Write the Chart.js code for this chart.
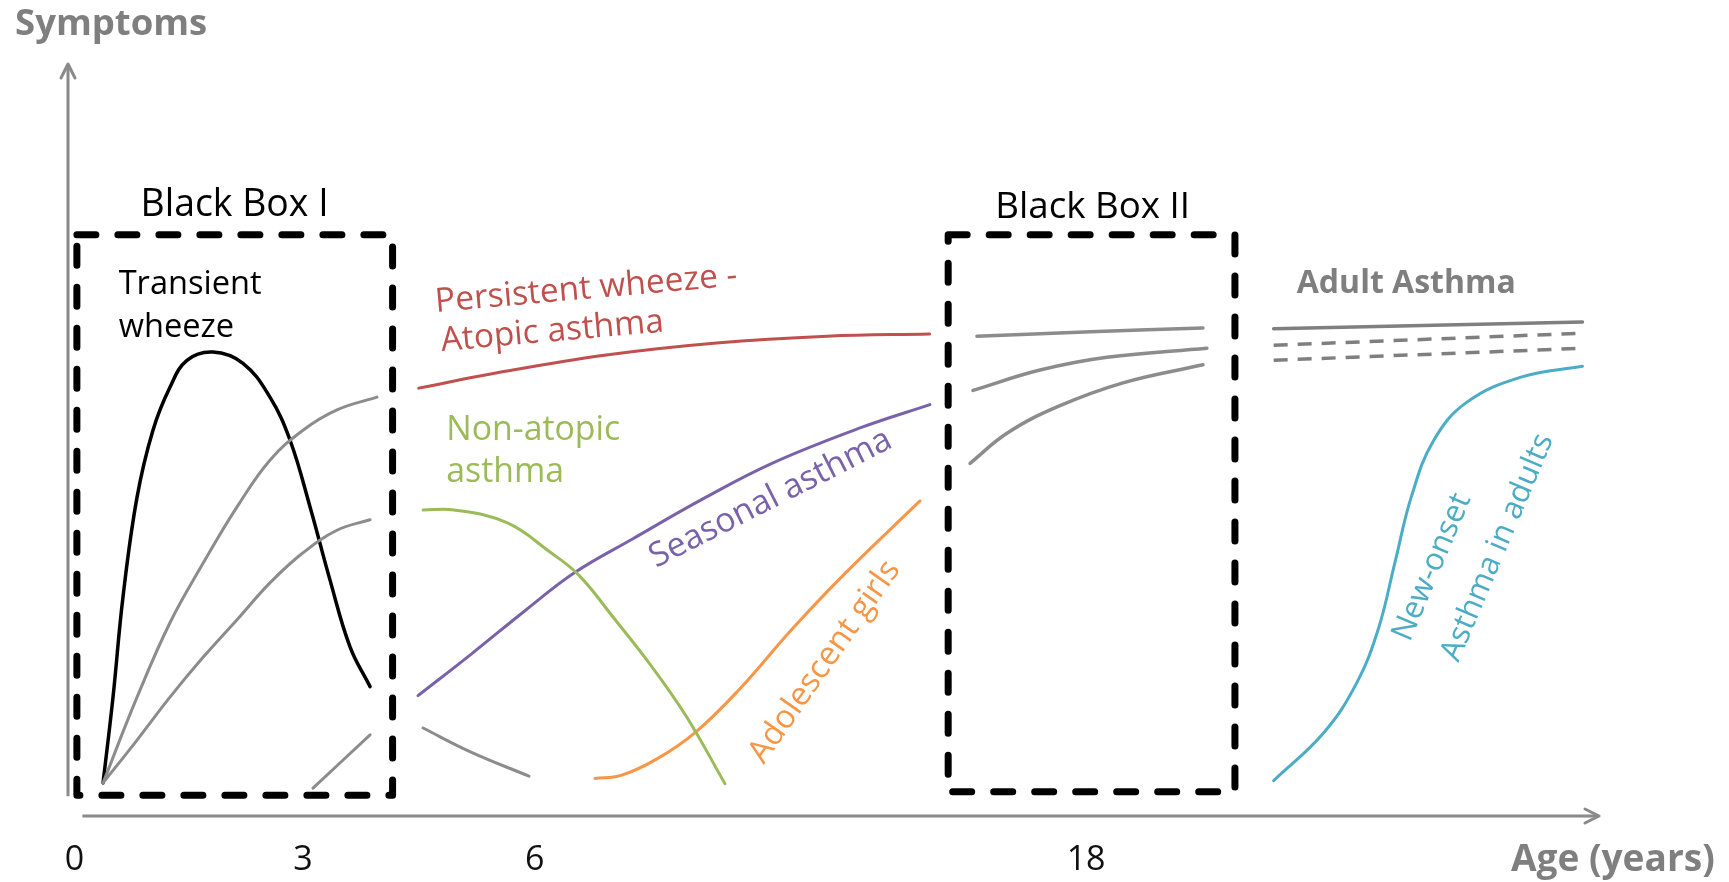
<!DOCTYPE html>
<html><head><meta charset="utf-8">
<script src="https://cdn.jsdelivr.net/npm/chart.js@4"></script>
<style>html,body{margin:0;padding:0;background:#fff;overflow:hidden}canvas{display:block}</style>
</head><body>
<canvas id="c" width="1729" height="882"></canvas>
<script>
// Layout units: x = position along the age axis (0-100), y = symptom level (0-100)
const tickPositions = [0.43, 15.35, 30.48, 66.5];
const tickLabels = ['0', '3', '6', '18'];

const boxI = [[0.58, 77.3], [21.2, 77.3], [21.2, 2.75], [0.58, 2.75], [0.58, 77.3]];
const boxII = [[57.49, 77.3], [76.22, 77.3], [76.22, 3.23], [57.49, 3.23], [57.49, 77.3]];

const transientWheeze = [[2.29,4.4],[2.94,15.8],[3.59,29.1],[4.51,42.4],[5.55,51.3],[6.66,57.0],[7.77,60.6],[9.47,61.7],[11.43,60.2],[13.19,55.7],[14.50,50.0],[15.81,41.1],[17.11,31.4],[18.42,22.5],[19.73,17.2]];
const earlyGrayUpper = [[2.29,4.4],[4.51,15.8],[6.66,25.7],[8.82,33.6],[11.04,41.1],[13.19,47.3],[15.35,51.3],[17.57,54.0],[20.18,55.7]];
const earlyGrayMiddle = [[2.29,4.4],[4.51,10.1],[6.66,15.8],[8.82,21.1],[11.04,26.1],[13.19,31.0],[15.35,35.0],[17.57,38.0],[19.73,39.4]];
const earlyGrayLower = [[16.0,3.7],[19.73,10.8]];
const remissionGray = [[23.19,11.7],[26.32,8.5],[30.11,5.3]];

const persistentWheeze = [[22.91,56.9],[27.95,58.9],[35.16,61.3],[42.36,62.9],[49.57,63.8],[56.27,64.1]];
const nonAtopic = [[23.19,40.7],[25.21,40.7],[28.67,39.0],[31.48,35.1],[33.38,32.0],[35.66,26.3],[38.01,20.2],[40.37,13.3],[42.91,4.3]];
const seasonal = [[22.86,16.0],[26.32,21.5],[29.85,27.3],[33.12,32.4],[36.84,36.8],[41.5,42.2],[45.98,46.9],[51.73,51.6],[56.30,54.7]];
const adolescentGirls = [[34.42,5.0],[36.12,5.4],[38.47,7.6],[41.02,11.2],[43.83,16.8],[47.36,25.0],[50.82,32.4],[55.65,41.9]];

const lateGrayTop = [[59.37,63.8],[66.8,64.4],[74.13,64.9]];
const lateGrayMiddle = [[59.11,56.6],[63.49,59.3],[67.86,61.0],[74.39,62.2]];
const lateGrayBottom = [[58.92,46.9],[61.33,50.9],[64.6,54.4],[68.91,57.6],[74.13,60.0]];

const adultSolid = [[78.75,64.8],[98.92,65.7]];
const adultDashedUpper = [[78.75,62.6],[98.92,64.2]];
const adultDashedLower = [[78.75,60.6],[98.92,62.2]];
const newOnsetAdult = [[78.75,4.7],[81.99,11.0],[84.15,17.6],[85.59,24.9],[86.67,33.7],[87.75,42.5],[89.19,49.9],[91.35,55.0],[94.96,58.4],[98.92,59.8]];

const axisY = [[0, 2.64], [0, 100]];
const axisX = [[0.94, 0], [100, 0]];

// ---- styles ----
const GRAY = '#8c8c8c';
const pts = a => a.map(([x, y]) => ({x, y}));
function curve(data, color, width, extra) {
  return Object.assign({data: pts(data), borderColor: color, borderWidth: width, pointRadius: 0,
    fill: false, tension: 0.4, cubicInterpolationMode: 'default', borderCapStyle: 'round', clip: false}, extra || {});
}
const straight = {tension: 0, cubicInterpolationMode: 'default'};
const box = d => curve(d, '#000', 7, Object.assign({borderDash: [19, 22], borderCapStyle: 'round', borderJoinStyle: 'round'}, straight));
const dashed = d => curve(d, '#7f7f7f', 3.5, Object.assign({borderDash: [14, 10], borderCapStyle: 'butt'}, straight));

const datasets = [
  curve(axisY, '#8a8a8a', 3, Object.assign({borderCapStyle: 'butt'}, straight)),
  curve(axisX, '#8a8a8a', 3, Object.assign({borderCapStyle: 'butt'}, straight)),
  box(boxI), box(boxII),
  curve(earlyGrayUpper, GRAY, 3), curve(earlyGrayMiddle, GRAY, 3), curve(earlyGrayLower, GRAY, 3),
  curve(remissionGray, GRAY, 3),
  curve(transientWheeze, '#000', 3.5),
  curve(persistentWheeze, '#c0504d', 3),
  curve(nonAtopic, '#9bbb59', 3),
  curve(seasonal, '#7a62aa', 3),
  curve(adolescentGirls, '#f79646', 3),
  curve(lateGrayTop, GRAY, 3.5), curve(lateGrayMiddle, GRAY, 3.5), curve(lateGrayBottom, GRAY, 3.5),
  curve(adultSolid, '#7f7f7f', 3.5, straight),
  dashed(adultDashedUpper), dashed(adultDashedLower),
  curve(newOnsetAdult, '#4bacc6', 3)
];

const FONT = '"Open Sans", "DejaVu Sans", sans-serif';
const textGroups = [
  {lines: [{t: 'Symptoms', x: -3.46, y: 105.3}], width: 192, color: '#7f7f7f', weight: 'bold', rot: 0, align: 'left'},
  {lines: [{t: 'Age (years)', x: 107.56, y: -5.87}], width: 204, color: '#7f7f7f', weight: 'bold', rot: 0, align: 'right'},
  {lines: [{t: 'Black Box I', x: 10.88, y: 81.2}], width: 188, color: '#000', weight: 'normal', rot: 0, align: 'center'},
  {lines: [{t: 'Black Box II', x: 66.93, y: 80.9}], width: 195, color: '#000', weight: 'normal', rot: 0, align: 'center'},
  {lines: [{t: 'Transient', x: 3.31, y: 70.6}, {t: 'wheeze', x: 3.31, y: 64.9}], width: 143, color: '#000', weight: 'normal', rot: 0, align: 'left'},
  {lines: [{t: 'Persistent wheeze -', x: 23.99, y: 68.3}, {t: 'Atopic asthma', x: 24.35, y: 63.1}], width: 303, color: '#c0504d', weight: 'normal', rot: -5, align: 'left'},
  {lines: [{t: 'Non-atopic', x: 24.71, y: 51.3}, {t: 'asthma', x: 24.71, y: 45.7}], width: 174, color: '#9bbb59', weight: 'normal', rot: 0, align: 'left'},
  {lines: [{t: 'Seasonal asthma', x: 45.89, y: 42.2}], width: 267, color: '#7a62aa', weight: 'normal', rot: -27, align: 'center'},
  {lines: [{t: 'Adolescent girls', x: 49.42, y: 20.5}], width: 239, color: '#f79646', weight: 'normal', rot: -55, align: 'center'},
  {lines: [{t: 'Adult Asthma', x: 80.26, y: 70.8}], width: 219, color: '#7f7f7f', weight: 'bold', rot: 0, align: 'left'},
  {lines: [{t: 'Asthma in adults', x: 90.27, y: 20.8}, {t: 'New-onset', x: 87.1, y: 23.5}], width: 244, color: '#4bacc6', weight: 'normal', rot: -67, align: 'left'}
];

const decor = {
  id: 'decor',
  afterDatasetsDraw(chart) {
    const ctx = chart.ctx, xs = chart.scales.x, ys = chart.scales.y;
    ctx.save();
    // arrowheads
    ctx.strokeStyle = '#8a8a8a'; ctx.lineWidth = 3; ctx.lineCap = 'round'; ctx.lineJoin = 'round';
    const yx = xs.getPixelForValue(axisY[1][0]), yy = ys.getPixelForValue(axisY[1][1]);
    ctx.beginPath(); ctx.moveTo(yx - 7, yy + 14); ctx.lineTo(yx, yy); ctx.lineTo(yx + 7, yy + 14); ctx.stroke();
    const xx = xs.getPixelForValue(axisX[1][0]), xy = ys.getPixelForValue(axisX[1][1]);
    ctx.beginPath(); ctx.moveTo(xx - 14, xy - 7); ctx.lineTo(xx, xy); ctx.lineTo(xx - 14, xy + 7); ctx.stroke();
    // tick labels
    ctx.fillStyle = '#111'; ctx.font = '34px ' + FONT; ctx.textAlign = 'center'; ctx.textBaseline = 'middle';
    tickPositions.forEach((v, i) => ctx.fillText(tickLabels[i], xs.getPixelForValue(v), ys.getPixelForValue(-5.87)));
    // text groups
    textGroups.forEach(g => {
      ctx.font = g.weight + ' 100px ' + FONT;
      const size = 100 * g.width / ctx.measureText(g.lines[0].t).width;
      ctx.font = g.weight + ' ' + size.toFixed(1) + 'px ' + FONT;
      ctx.fillStyle = g.color; ctx.textAlign = g.align; ctx.textBaseline = 'middle';
      g.lines.forEach(l => {
        ctx.save();
        ctx.translate(xs.getPixelForValue(l.x), ys.getPixelForValue(l.y));
        ctx.rotate(g.rot * Math.PI / 180);
        ctx.fillText(l.t, 0, 0);
        ctx.restore();
      });
    });
    ctx.restore();
  }
};

new Chart(document.getElementById('c'), {
  type: 'line',
  data: {datasets},
  options: {
    responsive: false, animation: false, events: [],
    layout: {padding: {left: 68, right: 130, top: 64, bottom: 66}},
    plugins: {legend: {display: false}, tooltip: {enabled: false}},
    scales: {
      x: {type: 'linear', min: 0, max: 100, display: false},
      y: {type: 'linear', min: 0, max: 100, display: false}
    }
  },
  plugins: [decor]
});
</script>
</body></html>
